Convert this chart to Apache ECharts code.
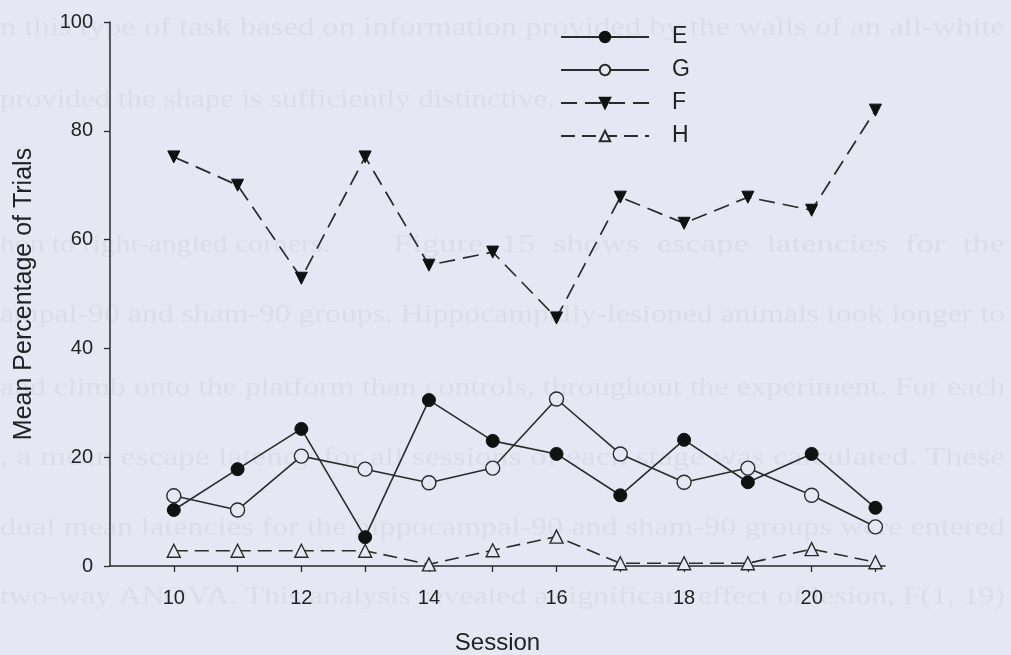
<!DOCTYPE html>
<html>
<head>
<meta charset="utf-8">
<script src="https://cdn.jsdelivr.net/npm/echarts@6/dist/echarts.min.js"></script>
<style>
  html, body { margin: 0; padding: 0; background: #e7e6f4; }
  #chart { width: 1011px; height: 655px; }
</style>
</head>
<body>
<div id="chart"></div>
<script>
// sessions on the x axis
var sessions = [10, 11, 12, 13, 14, 15, 16, 17, 18, 19, 20, 21];
var xTickLabels = [10, 12, 14, 16, 18, 20];

// mean percentage of trials per group
var valuesE = [10.3, 17.8, 25.2, 5.3, 30.5, 23.0, 20.6, 13.0, 23.2, 15.4, 20.6, 10.7];
var valuesG = [12.9, 10.3, 20.2, 17.8, 15.3, 18.0, 30.7, 20.6, 15.4, 18.0, 13.0, 7.2];
var valuesF = [75.2, 70.0, 52.9, 75.2, 55.3, 57.7, 45.6, 67.8, 63.0, 67.8, 65.4, 83.8];
var valuesH = [2.8, 2.8, 2.8, 2.8, 0.3, 2.9, 5.4, 0.5, 0.5, 0.5, 3.1, 0.7];

// faint text showing through from the back of the page
var pageLines = [
  { y: 28, w: 1005, s: 'n this type of task based on information provided by the walls of an all-white' },
  { y: 100, w: 555, s: 'provided the shape is sufficiently distinctive.' },
  { y: 245, w: 330, s: 'hon to right-angled corners.' },
  { y: 245, x: 393, w: 612, s: 'Figure  15  shows  escape  latencies  for  the' },
  { y: 315, w: 1005, s: 'ampal-90 and sham-90 groups. Hippocampally-lesioned animals took longer to' },
  { y: 388, w: 1005, s: 'and climb onto the platform than controls, throughout the experiment. For each' },
  { y: 458, w: 1005, s: ', a mean escape latency for all sessions of each stage was calculated. These' },
  { y: 528, w: 1005, s: 'dual mean latencies for the hippocampal-90 and sham-90 groups were entered' },
  { y: 597, w: 1005, s: 'two-way ANOVA. This analysis revealed a significant effect of lesion, F(1, 19)' }
];

var BG = '#e7e6f4';
var INK = '#2b2b2b';

function pairs(vals) {
  return sessions.map(function (s, i) { return [s, vals[i]]; });
}

var measure = document.createElement('canvas').getContext('2d');
measure.font = '26px "Liberation Serif"';
var bleed = pageLines.map(function (l) {
  var w = measure.measureText(l.s).width;
  return {
    type: 'text', z: -10, silent: true,
    x: l.x || 0, y: l.y, scaleX: l.w / w,
    style: { text: l.s, font: '26px "Liberation Serif"', fill: '#dddcea', verticalAlign: 'middle' }
  };
});

var lineBase = { type: 'line', clip: false, symbolSize: 13, z: 3 };

var chart = echarts.init(document.getElementById('chart'));
chart.setOption({
  backgroundColor: BG,
  animation: false,
  textStyle: { fontFamily: '"Liberation Sans", Arial, sans-serif', color: '#222' },
  graphic: bleed,
  grid: { left: 110, right: 126, top: 22, bottom: 89, containLabel: false, outerBoundsMode: 'none' },
  legend: {
    orient: 'vertical', left: 560, top: 25, padding: 0,
    itemWidth: 88, itemHeight: 13, itemGap: 9,
    textStyle: { fontSize: 23, color: '#222', lineHeight: 24, padding: [0, 0, 0, 18] },
    data: ['E', 'G', 'F', 'H']
  },
  xAxis: {
    type: 'value', min: 9, max: 21.15, interval: 1,
    name: 'Session', nameLocation: 'middle', nameGap: 65,
    nameTextStyle: { fontSize: 24, color: '#222' },
    axisLine: { lineStyle: { color: INK, width: 1.5 } },
    axisTick: { show: true, inside: false, length: 6, lineStyle: { color: INK, width: 1.3 } },
    axisLabel: {
      fontSize: 20, margin: 22, color: '#222', showMinLabel: false, showMaxLabel: false,
      formatter: function (v) { return xTickLabels.indexOf(v) >= 0 ? String(v) : ''; }
    },
    splitLine: { show: false }
  },
  yAxis: {
    type: 'value', min: 0, max: 100, interval: 20,
    name: 'Mean Percentage of Trials', nameLocation: 'middle', nameGap: 73,
    nameTextStyle: { fontSize: 25, color: '#222' },
    axisLine: { show: true, lineStyle: { color: INK, width: 1.5 } },
    axisTick: { show: true, inside: false, length: 6, lineStyle: { color: INK, width: 1.3 } },
    axisLabel: { fontSize: 20, margin: 17, color: '#222' },
    splitLine: { show: false }
  },
  series: [
    Object.assign({}, lineBase, {
      name: 'E', data: pairs(valuesE), symbol: 'circle',
      lineStyle: { color: INK, width: 1.6 },
      itemStyle: { color: '#111', borderColor: '#111', borderWidth: 1 }
    }),
    Object.assign({}, lineBase, {
      name: 'G', data: pairs(valuesG), symbol: 'circle', symbolSize: 14,
      lineStyle: { color: INK, width: 1.6 },
      itemStyle: { color: BG, borderColor: INK, borderWidth: 1.4 }
    }),
    Object.assign({}, lineBase, {
      name: 'F', data: pairs(valuesF), symbol: 'triangle', symbolRotate: 180, symbolSize: 12,
      lineStyle: { color: INK, width: 1.7, type: [16, 8] },
      itemStyle: { color: '#111', borderColor: '#111', borderWidth: 1 }
    }),
    Object.assign({}, lineBase, {
      name: 'H', data: pairs(valuesH), symbol: 'triangle', symbolSize: 13,
      lineStyle: { color: INK, width: 1.6, type: [14, 7] },
      itemStyle: { color: BG, borderColor: INK, borderWidth: 1.4 }
    })
  ]
});
</script>
</body>
</html>
